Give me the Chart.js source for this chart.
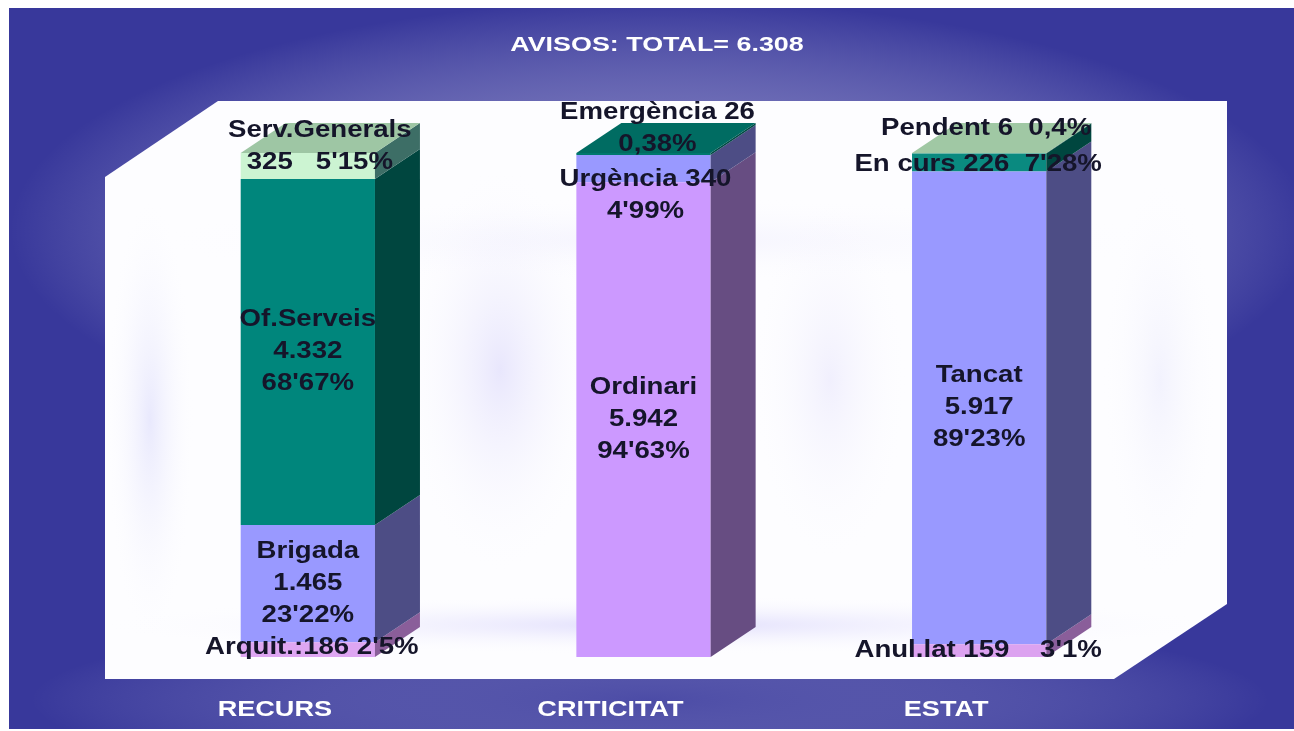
<!DOCTYPE html>
<html>
<head>
<meta charset="utf-8">
<title>Avisos</title>
<script src="https://cdn.jsdelivr.net/npm/chart.js@4.4.0/dist/chart.umd.min.js"></script>
<style>
    html, body { margin: 0; padding: 0; background: #ffffff; }
    canvas { display: block; }
</style>
</head>
<body>
<canvas id="avisosChart" width="1294" height="731"></canvas>
<script>
// dades (de baix a dalt de cada barra)
const titleText = 'AVISOS: TOTAL= 6.308';
const categories = ['RECURS', 'CRITICITAT', 'ESTAT'];

const recursValues = [186, 1465, 4332, 325];
const criticitatValues = [5942, 340, 26];
const estatValues = [159, 5917, 226, 6];

const recursLabels = [["Arquit.:186 2'5%"], ['Brigada', '1.465', "23'22%"], ['Of.Serveis', '4.332', "68'67%"], ['Serv.Generals', "325   5'15%"]];
const criticitatLabels = [['Ordinari', '5.942', "94'63%"], ['Urgència 340', "4'99%"], ['Emergència 26', '0,38%']];
const estatLabels = [["Anul.lat 159    3'1%"], ['Tancat', '5.917', "89'23%"], ["En curs 226  7'28%"], ['Pendent 6  0,4%']];

const totalAvisos = 6308;

// colors: cara frontal, lateral i superior
const frontColors = [
    ['#dea6f2', '#9999ff', '#00867c', '#ccf4d2'],
    ['#cc99ff', '#9999ff', '#00786e'],
    ['#dca2f0', '#9999ff', '#0a8a80', '#a6cca8']
];
const sideColors = [
    ['#8a5e9a', '#4d4d85', '#00463f', '#3d6e66'],
    ['#674d82', '#4d4d85', '#004a44'],
    ['#8a5e9a', '#4d4d85', '#00463f', '#1f5a50']
];
const topColors = ['#9ec6a4', '#006c62', '#a0c8a4'];

// desplaçaments de les etiquetes respecte al centre del tram [dx, dy]
const labelShift = [
    [[4, -2], [0, 0], [0, 0], [12, -19]],
    [[0, 0], [2, 27], [14, -25]],
    [[-1, 0], [0, 0], [-1, 2], [7, -25]]
];

const allValues = [recursValues, criticitatValues, estatValues];
const allLabels = [recursLabels, criticitatLabels, estatLabels];
const depthX = 45;
const depthY = -30;
const lineHeight = 32;

// un dataset per nivell de l'apilament
const levels = Math.max(...allValues.map(v => v.length));
const datasets = [];
for (let level = 0; level < levels; level++) {
    datasets.push({
        data: allValues.map(v => (v[level] !== undefined ? v[level] : null)),
        backgroundColor: frontColors.map(c => c[level] || 'transparent'),
        borderWidth: 0,
        categoryPercentage: 1,
        barPercentage: 0.4
    });
}

function stretchedText(ctx, text, x, y, size, scaleX, color) {
    ctx.save();
    ctx.font = `bold ${size}px "Liberation Sans", Arial, sans-serif`;
    ctx.fillStyle = color;
    ctx.textAlign = 'center';
    ctx.textBaseline = 'middle';
    ctx.translate(x, y);
    ctx.scale(scaleX, 1);
    ctx.fillText(text, 0, 0);
    ctx.restore();
}

function polygon(ctx, pts, fill) {
    ctx.beginPath();
    ctx.moveTo(pts[0][0], pts[0][1]);
    for (let i = 1; i < pts.length; i++) ctx.lineTo(pts[i][0], pts[i][1]);
    ctx.closePath();
    ctx.fillStyle = fill;
    ctx.fill();
}

function glow(ctx, cx, cy, rx, ry, color) {
    ctx.save();
    ctx.translate(cx, cy);
    ctx.scale(rx / ry, 1);
    const g = ctx.createRadialGradient(0, 0, 0, 0, 0, ry);
    g.addColorStop(0, color);
    g.addColorStop(1, 'rgba(255,255,255,0)');
    ctx.fillStyle = g;
    ctx.fillRect(-ry, -ry, ry * 2, ry * 2);
    ctx.restore();
}

// fons blau i caixa blanca
const backgroundPlugin = {
    id: 'background',
    beforeDraw(chart) {
        const ctx = chart.ctx;
        ctx.save();
        ctx.fillStyle = '#ffffff';
        ctx.fillRect(0, 0, chart.width, chart.height);
        ctx.fillStyle = '#38389b';
        ctx.fillRect(9, 8, 1285, 721);
        ctx.beginPath();
        ctx.rect(9, 8, 1285, 721);
        ctx.clip();
        glow(ctx, 660, 230, 650, 230, 'rgba(135,130,195,0.8)');
        glow(ctx, 650, 700, 620, 90, 'rgba(100,100,180,0.45)');
        ctx.restore();

        const box = [[218, 101], [1227, 101], [1227, 604], [1114, 679], [105, 679], [105, 177]];
        ctx.save();
        polygon(ctx, box, '#fdfdff');
        ctx.clip();
        glow(ctx, 150, 420, 45, 230, 'rgba(208,208,250,0.45)');
        glow(ctx, 500, 370, 100, 210, 'rgba(212,208,250,0.5)');
        glow(ctx, 830, 380, 80, 190, 'rgba(218,214,250,0.35)');
        glow(ctx, 1160, 380, 60, 210, 'rgba(218,218,250,0.3)');
        glow(ctx, 660, 625, 580, 30, 'rgba(205,200,250,0.6)');
        glow(ctx, 660, 240, 540, 45, 'rgba(228,226,252,0.35)');
        ctx.restore();
    }
};

// cares laterals i superiors de les barres, i textos
const depthPlugin = {
    id: 'depth',
    afterDatasetsDraw(chart) {
        const ctx = chart.ctx;
        const topIndex = allValues.map(v => v.length - 1);
        ctx.save();
        chart.data.datasets.forEach((ds, level) => {
            const meta = chart.getDatasetMeta(level);
            meta.data.forEach((bar, i) => {
                if (ds.data[i] === null) return;
                const right = bar.x + bar.width / 2;
                const left = bar.x - bar.width / 2;
                polygon(ctx, [[right, bar.y], [right + depthX, bar.y + depthY], [right + depthX, bar.base + depthY], [right, bar.base]], sideColors[i][level]);
                if (level === topIndex[i]) {
                    polygon(ctx, [[left, bar.y], [left + depthX, bar.y + depthY], [right + depthX, bar.y + depthY], [right, bar.y]], topColors[i]);
                }
            });
        });
        ctx.restore();
    },
    afterDraw(chart) {
        const ctx = chart.ctx;
        stretchedText(ctx, titleText, 657, 45, 21, 1.28, '#ffffff');
        const xMeta = chart.getDatasetMeta(0);
        categories.forEach((cat, i) => {
            stretchedText(ctx, cat, xMeta.data[i].x - 33, 710, 22, 1.23, '#ffffff');
        });
        chart.data.datasets.forEach((ds, level) => {
            const meta = chart.getDatasetMeta(level);
            meta.data.forEach((bar, i) => {
                const lines = allLabels[i][level];
                if (!lines) return;
                const shift = labelShift[i][level];
                const cy = (bar.y + bar.base) / 2 + shift[1];
                const y0 = cy - (lines.length - 1) * lineHeight / 2;
                lines.forEach((line, k) => {
                    stretchedText(ctx, line, bar.x + shift[0], y0 + k * lineHeight, 23, 1.2, '#15152a');
                });
            });
        });
    }
};

const chart = new Chart(document.getElementById('avisosChart'), {
    type: 'bar',
    data: { labels: categories, datasets: datasets },
    options: {
        responsive: false,
        animation: false,
        devicePixelRatio: 1,
        layout: { padding: { left: 140, right: 147, top: 153, bottom: 74 } },
        plugins: { legend: { display: false }, tooltip: { enabled: false }, title: { display: false } },
        scales: {
            x: { stacked: true, display: false },
            y: { stacked: true, display: false, min: 0, max: totalAvisos }
        }
    },
    plugins: [backgroundPlugin, depthPlugin]
});
</script>
</body>
</html>
